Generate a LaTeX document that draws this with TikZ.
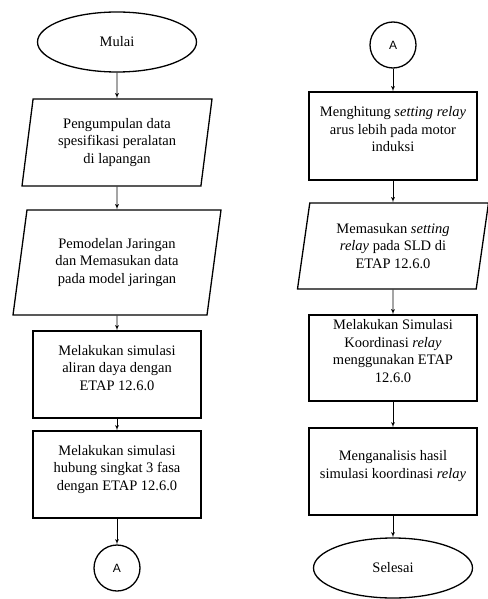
\documentclass[tikz,border=0pt]{standalone}
\usepackage{fontspec}
\setmainfont{Liberation Serif}
\newfontfamily\timesfont{Liberation Serif}
\newfontfamily\arialfont{Liberation Sans}
\usetikzlibrary{shapes,arrows,calc}
\tikzstyle{line} = [draw, -latex', line width=0.8pt]
\tikzstyle{block} = [draw, rectangle, align=center, line width=1.3pt, minimum width=168pt, minimum height=87pt, text depth=14pt, inner sep=2pt]
\tikzstyle{io} = [draw, trapezium, trapezium left angle=78, trapezium right angle=102, trapezium stretches body, align=center, line width=1.3pt, minimum height=87pt, inner sep=2pt]
\tikzstyle{cloud} = [draw, ellipse, text centered, line width=1.3pt, minimum width=159pt, minimum height=60pt]
\tikzstyle{conn} = [draw, circle, line width=1.3pt, minimum size=46pt, font=\arialfont\fontsize{12}{14}\selectfont]

\begin{document}
\begin{tikzpicture}[x=1pt, y=1pt, font=\timesfont\fontsize{14.5}{17.5}\selectfont]
        \useasboundingbox (0,0) rectangle (487,-599);
        % kolom kiri
        \node[cloud] (mulai) at (117,-42) {Mulai};
        \node[io, below of=mulai, node distance=100.5pt, minimum width=190pt] (data) {Pengumpulan data\\spesifikasi peralatan\\di lapangan};
        \node[io, below of=data, node distance=120pt, minimum height=105pt, minimum width=208pt, trapezium left angle=75, trapezium right angle=105] (model) {Pemodelan Jaringan\\dan Memasukan data\\pada model jaringan};
        \node[block, below of=model, node distance=112pt] (aliran) {Melakukan simulasi\\aliran daya dengan\\ETAP 12.6.0};
        \node[block, below of=aliran, node distance=100pt] (hubung) {Melakukan simulasi\\hubung singkat 3 fasa\\dengan ETAP 12.6.0};
        \node[conn, below of=hubung, node distance=93.5pt] (a1) {A};
        % kolom kanan
        \node[conn] (a2) at (393,-45) {A};
        \node[block, below of=a2, node distance=91pt, minimum height=88pt] (hitung) {Menghitung \textit{setting relay}\\arus lebih pada motor\\induksi};
        \node[io, below of=hitung, node distance=110pt, minimum height=86pt, minimum width=191pt, trapezium left angle=76, trapezium right angle=104] (setting) {Memasukan \textit{setting}\\\textit{relay} pada SLD di\\ETAP 12.6.0};
        \node[block, below of=setting, node distance=112pt, minimum height=86pt] (koordinasi) {Melakukan Simulasi\\Koordinasi \textit{relay}\\menggunakan ETAP\\12.6.0};
        \node[block, below of=koordinasi, node distance=113.5pt] (analisis) {Menganalisis hasil\\simulasi koordinasi \textit{relay}};
        \node[cloud, below of=analisis, node distance=96.5pt] (selesai) {Selesai};
        \path[line] (mulai) -- (data);
        \path[line] (data) -- (model);
        \path[line] (model) -- (aliran);
        \path[line] (aliran) -- (hubung);
        \path[line] (hubung) -- (a1);
        \path[line] (a2) -- (hitung);
        \path[line] (hitung) -- (setting);
        \path[line] (setting) -- (koordinasi);
        \path[line] (koordinasi) -- (analisis);
        \path[line] (analisis) -- (selesai);
    \end{tikzpicture}
\end{document}
